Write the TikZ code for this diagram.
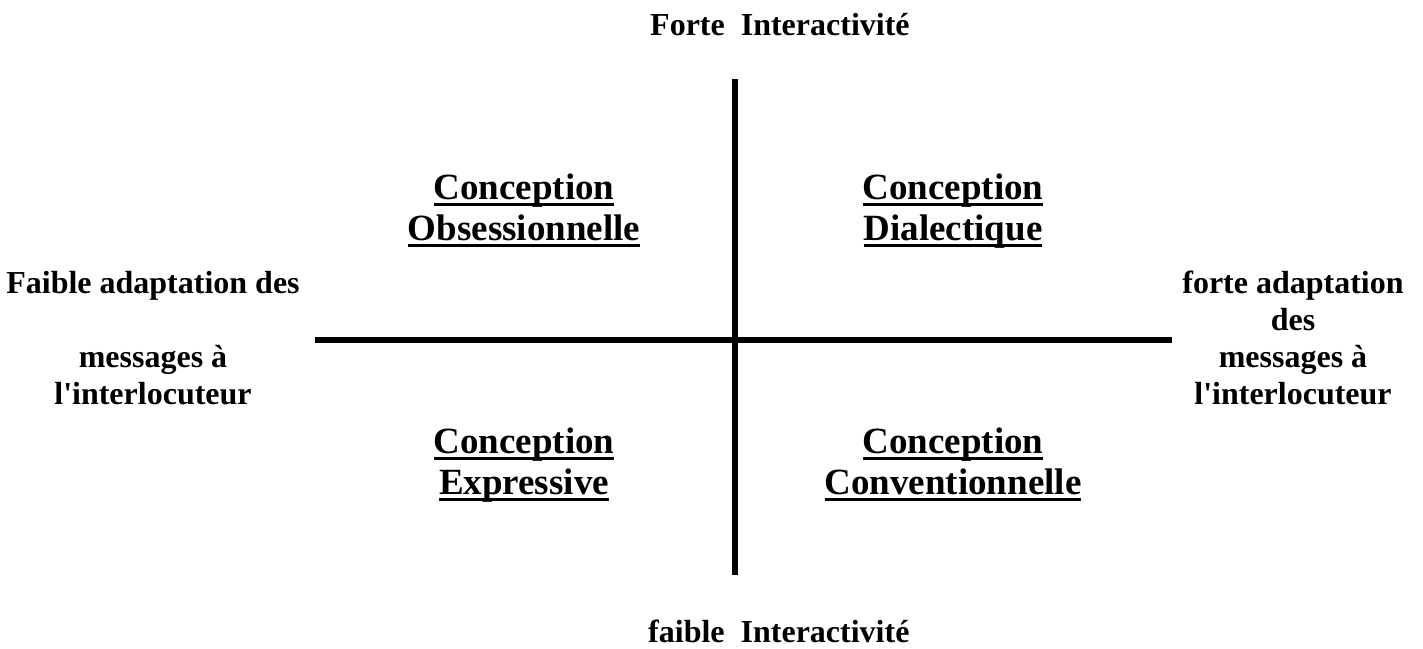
\documentclass[tikz,border=0pt]{standalone}
\usepackage{fontspec}
\setmainfont{Liberation Serif}[Ligatures=TeXOff]
% word underline drawn at a fixed depth below the baseline
\newsavebox\ulbox
\newcommand\ulword[1]{\sbox\ulbox{#1}\leavevmode\rlap{\rule[-7pt]{\wd\ulbox}{3pt}}\usebox\ulbox}
\begin{document}
\begin{tikzpicture}[x=1pt,y=-1pt,
  axis/.style={line width=5.5pt},
  quad/.style={font=\bfseries\fontsize{37}{41}\selectfont, align=center, inner sep=0pt, anchor=base},
  side/.style={font=\bfseries\fontsize{32}{37}\selectfont, align=center, inner sep=0pt, anchor=base},
  pole/.style={font=\bfseries\fontsize{32}{37}\selectfont, inner sep=0pt, anchor=base west}]
\useasboundingbox (0,0) rectangle (1423,648);

% axes
\coordinate (vtop) at (735,79);
\coordinate (vbot) at (735,575);
\coordinate (hleft) at (315,340);
\coordinate (hright) at (1172,340);
\draw[axis] (vtop) -- (vbot);
\draw[axis] (hleft) -- (hright);

% poles of the vertical axis
\node[pole] (top) at (650,35) {Forte\ \ Interactivité};
\node[pole] (bottom) at (648,642) {faible\ \ Interactivité};

% poles of the horizontal axis (base = baseline of the last line)
\node[side] (left) at (153,404) {Faible adaptation des\\[37pt] messages à\\ l'interlocuteur};
\node[side] (right) at (1293,404) {forte adaptation\\ des\\ messages à\\ l'interlocuteur};

% quadrants
\node[quad] (q1) at (524,240) {\ulword{Conception}\\ \ulword{Obsessionnelle}};
\node[quad] (q2) at (953,240) {\ulword{Conception}\\ \ulword{Dialectique}};
\node[quad] (q3) at (524,494) {\ulword{Conception}\\ \ulword{Expressive}};
\node[quad] (q4) at (953,494) {\ulword{Conception}\\ \ulword{Conventionnelle}};
\end{tikzpicture}
\end{document}
